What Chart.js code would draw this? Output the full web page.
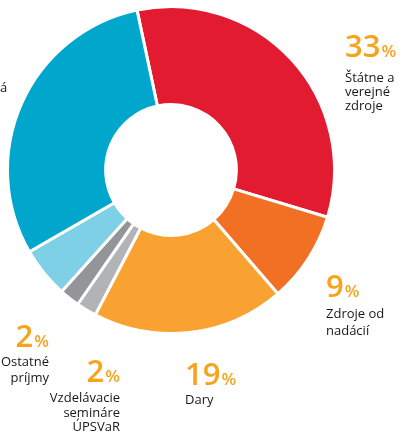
<!DOCTYPE html>
<html lang="sk">
<head>
  <meta charset="UTF-8">
  <title>Zdroje príjmov</title>
  <script src="https://cdn.jsdelivr.net/npm/chart.js"></script>
  <style>
    body { margin: 0; background: #fff; }
    #wrap { width: 403px; height: 433px; position: relative; }
  </style>
</head>
<body>
  <div id="wrap">
    <canvas id="chart" width="403" height="433"></canvas>
  </div>

  <script>
    const categories = [
      ["Štátne a", "verejné", "zdroje"],
      ["Zdroje od", "nadácií"],
      ["Dary"],
      ["Vzdelávacie", "semináre", "ÚPSVaR"],
      ["Ostatné", "príjmy"],
      [],
      ["á"]
    ];
    const shares = [33, 9, 19, 2, 2, 5, 30];
    const sliceColors = ["#E21B30", "#F27023", "#F9A231", "#B1B3B6", "#939598", "#7ED0E6", "#00A6CB"];
    const showNumber = [true, true, true, true, true, false, false];

    // where each label block sits (number baseline, then text lines)
    const labelPos = [
      { x: 345, y: 57, align: "left", lines: [82, 96, 110] },
      { x: 326, y: 297, align: "left", lines: [318, 335] },
      { x: 185, y: 385, align: "left", lines: [404] },
      { x: 120, y: 382, align: "right", lines: [402, 417, 431] },
      { x: 49, y: 347, align: "right", lines: [366, 382] },
      null,
      { x: 0, y: 0, align: "left", lines: [92] }
    ];

    const font = "'Open Sans', 'Noto Sans', sans-serif";

    const labelPlugin = {
      id: "sliceLabels",
      afterDraw(chart) {
        const ctx = chart.ctx;
        ctx.save();
        ctx.textBaseline = "alphabetic";
        categories.forEach((lines, i) => {
          const pos = labelPos[i];
          if (!pos) return;
          if (showNumber[i]) {
            const num = String(shares[i]);
            ctx.font = "600 31px " + font;
            const wNum = ctx.measureText(num).width;
            ctx.font = "600 17px " + font;
            const wPct = ctx.measureText("%").width;
            const left = pos.align === "right" ? pos.x - wNum - wPct - 1 : pos.x;
            ctx.fillStyle = "#F7A31C";
            ctx.textAlign = "left";
            ctx.font = "600 31px " + font;
            ctx.fillText(num, left, pos.y);
            ctx.font = "600 17px " + font;
            ctx.fillText("%", left + wNum + 1, pos.y);
          }
          ctx.fillStyle = "#1A1718";
          ctx.font = "13px " + font;
          ctx.textAlign = pos.align;
          lines.forEach((t, k) => ctx.fillText(t, pos.x, pos.lines[k]));
        });
        ctx.restore();
      }
    };

    new Chart(document.getElementById("chart"), {
      type: "doughnut",
      data: {
        labels: categories.map(c => c.join(" ")),
        datasets: [{
          data: shares,
          backgroundColor: sliceColors,
          borderColor: "#fff",
          borderWidth: 3
        }]
      },
      options: {
        responsive: false,
        animation: false,
        rotation: -12,
        cutout: "40%",
        layout: { padding: { left: 6, right: 67, top: 5, bottom: 98 } },
        plugins: {
          legend: { display: false },
          tooltip: { enabled: false }
        }
      },
      plugins: [labelPlugin]
    });
  </script>
</body>
</html>
